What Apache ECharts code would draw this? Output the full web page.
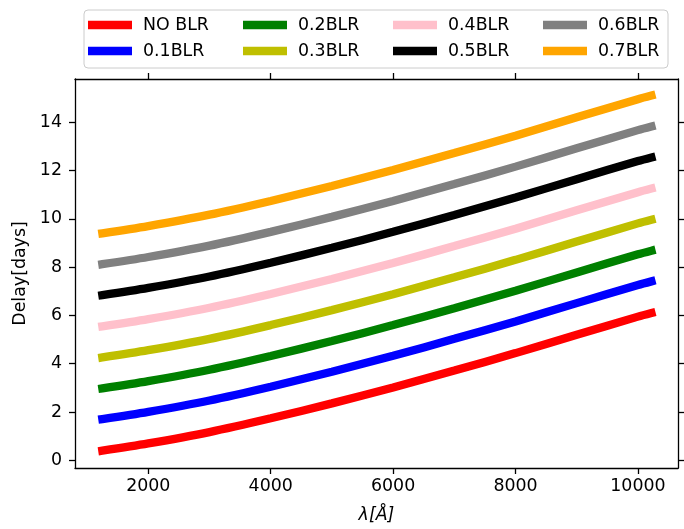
<!DOCTYPE html>
<html>
<head>
<meta charset="utf-8">
<script src="https://cdn.jsdelivr.net/npm/echarts@6/dist/echarts.min.js"></script>
<style>
html,body{margin:0;padding:0;background:#fff;}
#chart{width:684px;height:529px;}
</style>
</head>
<body>
<div id="chart"></div>
<script>
// wavelength (Angstrom)
const lambda = [1250, 2000, 3000, 4000, 5000, 6000, 7000, 8000, 9000, 10000, 10220];
// delays (days)
const noBLR  = [0.40, 0.70, 1.17, 1.74, 2.36, 3.02, 3.72, 4.44, 5.20, 5.95, 6.10];
const blr01  = [1.71, 2.01, 2.48, 3.05, 3.67, 4.33, 5.03, 5.75, 6.51, 7.26, 7.41];
const blr02  = [2.98, 3.28, 3.75, 4.32, 4.94, 5.60, 6.30, 7.02, 7.78, 8.53, 8.68];
const blr03  = [4.26, 4.56, 5.03, 5.60, 6.22, 6.88, 7.58, 8.30, 9.06, 9.81, 9.96];
const blr04  = [5.55, 5.85, 6.32, 6.89, 7.51, 8.17, 8.87, 9.59, 10.35, 11.10, 11.25];
const blr05  = [6.84, 7.14, 7.61, 8.18, 8.80, 9.46, 10.16, 10.88, 11.64, 12.39, 12.54];
const blr06  = [8.12, 8.42, 8.89, 9.46, 10.08, 10.74, 11.44, 12.16, 12.92, 13.67, 13.82];
const blr07  = [9.40, 9.70, 10.17, 10.74, 11.36, 12.02, 12.72, 13.44, 14.20, 14.95, 15.10];

const seriesNames = ['NO BLR', '0.1BLR', '0.2BLR', '0.3BLR', '0.4BLR', '0.5BLR', '0.6BLR', '0.7BLR'];
const seriesData = [noBLR, blr01, blr02, blr03, blr04, blr05, blr06, blr07];
const colors = ['#ff0000', '#0000ff', '#008000', '#bfbf00', '#ffc0cb', '#000000', '#808080', '#ffa500'];

const xTicks = [2000, 4000, 6000, 8000, 10000];
const yTicks = [0, 2, 4, 6, 8, 10, 12, 14];

const FONT = 'DejaVu Sans';
const FS = 17.4;

const chart = echarts.init(document.getElementById('chart'), null, {renderer: 'canvas'});

// legend positions: matplotlib column-major layout, 4 columns x 2 rows
const colX = [88, 243, 393, 543];
const rowTop = [16.5, 42.5];
const legends = seriesNames.map((name, i) => ({
  data: [name],
  left: colX[Math.floor(i / 2)],
  top: rowTop[i % 2],
  padding: 0,
  icon: 'rect',
  itemWidth: 44,
  itemHeight: 8.5,
  selectedMode: false,
  textStyle: {fontFamily: FONT, fontSize: FS, color: '#000', padding: [0, 0, 0, 6]}
}));

const axisLineStyle = {color: '#000', width: 1.3};
const tickStyle = {color: '#000', width: 1.3};
const plain = v => String(v);

const xMin = 803, xMax = 10654;
const yMin = -0.316, yMax = 15.787;

const option = {
  animation: false,
  backgroundColor: '#fff',
  grid: {left: 75, right: 6, top: 79, bottom: 58, containLabel: false},
  legend: legends,
  graphic: [{
    type: 'rect',
    shape: {x: 84, y: 10, width: 584, height: 58, r: 4},
    style: {fill: 'rgba(255,255,255,0.8)', stroke: '#cccccc', lineWidth: 1},
    z: -1
  }],
  xAxis: [{
    type: 'value',
    position: 'bottom',
    min: xMin, max: xMax,
    name: 'λ[Å]',
    nameLocation: 'middle',
    nameGap: 39,
    nameTextStyle: {fontFamily: FONT, fontSize: FS, fontStyle: 'italic', color: '#000'},
    axisLine: {show: true, onZero: false, lineStyle: axisLineStyle},
    axisTick: {show: true, length: 6, lineStyle: tickStyle, customValues: xTicks},
    axisLabel: {show: true, margin: 10, fontFamily: FONT, fontSize: FS, color: '#000', customValues: xTicks, formatter: plain},
    splitLine: {show: false}
  }, {
    type: 'value',
    position: 'top',
    min: xMin, max: xMax,
    axisLine: {show: true, onZero: false, lineStyle: axisLineStyle},
    axisTick: {show: true, length: 6, lineStyle: tickStyle, customValues: xTicks},
    axisLabel: {show: false},
    splitLine: {show: false}
  }],
  yAxis: [{
    type: 'value',
    position: 'left',
    min: yMin, max: yMax,
    name: 'Delay[days]',
    nameLocation: 'middle',
    nameGap: 40,
    nameTextStyle: {fontFamily: FONT, fontSize: FS, color: '#000'},
    axisLine: {show: true, onZero: false, lineStyle: axisLineStyle},
    axisTick: {show: true, length: 6, lineStyle: tickStyle, customValues: yTicks},
    axisLabel: {show: true, margin: 13, fontFamily: FONT, fontSize: FS, color: '#000', customValues: yTicks, formatter: plain},
    splitLine: {show: false}
  }, {
    type: 'value',
    position: 'right',
    min: yMin, max: yMax,
    axisLine: {show: true, onZero: false, lineStyle: axisLineStyle},
    axisTick: {show: true, length: 6, lineStyle: tickStyle, customValues: yTicks},
    axisLabel: {show: false},
    splitLine: {show: false}
  }],
  series: seriesNames.map((name, i) => ({
    name: name,
    type: 'line',
    xAxisIndex: 0,
    yAxisIndex: 0,
    data: lambda.map((x, j) => [x, seriesData[i][j]]),
    smooth: 0.3,
    symbol: 'none',
    color: colors[i],
    lineStyle: {width: 8.3, color: colors[i], cap: 'square'},
    itemStyle: {color: colors[i]}
  }))
};

chart.setOption(option);
</script>
</body>
</html>
